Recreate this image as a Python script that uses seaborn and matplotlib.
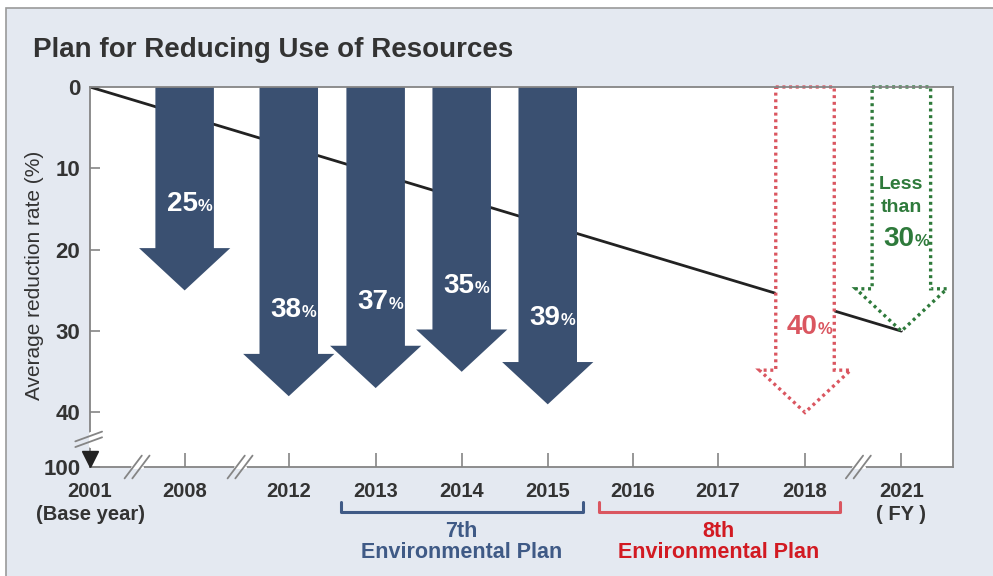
import matplotlib
matplotlib.use("Agg")
import matplotlib.pyplot as plt
from matplotlib.patches import Polygon, Rectangle
from matplotlib.lines import Line2D
import pandas as pd
import seaborn as sns

# ---- data -------------------------------------------------------------
years = ["2001", "2008", "2012", "2013", "2014", "2015", "2016", "2017", "2018", "2021"]
year_labels = ["2001\n(Base year)", "2008", "2012", "2013", "2014", "2015",
               "2016", "2017", "2018", "2021\n( FY )"]
result_years = ["2008", "2012", "2013", "2014", "2015"]
result_rates = [25, 38, 37, 35, 39]
target_years = ["2018", "2021"]
target_rates = [40, 30]
trend_years = ["2001", "2021"]
trend_rates = [0, 30]
y_ticks = [0, 10, 20, 30, 40]
y_tick_labels = ["0", "10", "20", "30", "40"]
base_label = "100"
plan_names = ["7th", "8th"]
plan_starts = ["2013", "2016"]
plan_ends = ["2015", "2018"]

# ---- layout / style ---------------------------------------------------
x_pos = dict(zip(years, [0.0, 1.10, 2.31, 3.32, 4.32, 5.32, 6.31, 7.30, 8.31, 9.43]))
X_MAX = 10.03
Y_BOTTOM = 46.7
SHAFT_HALF = 0.34
HEAD_HALF = 0.53
HEAD_LEN = 5.2
LABEL_UP = 9.7

BG = "#e4e9f1"
NAVY = "#3a5071"
RED_LINE = "#da5660"
RED_TEXT = "#d21a22"
GREEN = "#2e7a3b"
BLUE_TEXT = "#3f5a86"
DARK = "#333333"
SPINE = "#858585"

sns.set_theme(style="white")
plt.rcParams["font.family"] = ["Liberation Sans", "DejaVu Sans"]
LABEL_FONT = ["Liberation Sans", "DejaVu Sans"]

fig = plt.figure(figsize=(9.93, 5.76), dpi=100)
fig.patch.set_facecolor("white")
fig.patches.append(Rectangle((6 / 993, -0.2), 1.2, 0.2 + (576 - 8) / 576,
                             transform=fig.transFigure, facecolor=BG,
                             edgecolor="#9a9a9a", lw=1.2, zorder=-10))

ax = fig.add_axes([90 / 993, (576 - 467) / 576, (953 - 90) / 993, (467 - 87) / 576])
ax.set_facecolor("white")
ax.set_zorder(1)

# trend line from the base year to the final target
trend = pd.DataFrame({"x": [x_pos[y] for y in trend_years], "rate": trend_rates})
sns.lineplot(data=trend, x="x", y="rate", ax=ax, color="#222222", lw=2, zorder=2)


def arrow_verts(c, v):
    return [(c - SHAFT_HALF, 0), (c + SHAFT_HALF, 0), (c + SHAFT_HALF, v - HEAD_LEN),
            (c + HEAD_HALF, v - HEAD_LEN), (c, v), (c - HEAD_HALF, v - HEAD_LEN),
            (c - SHAFT_HALF, v - HEAD_LEN)]


def pct_label(c, v, color, size=20):
    y = v - LABEL_UP
    ax.text(c + 0.15, y, f"{v}", ha="right", va="baseline", color=color,
            fontsize=size, fontweight="bold", family=LABEL_FONT, zorder=5)
    ax.text(c + 0.15, y, "%", ha="left", va="baseline", color=color,
            fontsize=size * 0.6, fontweight="bold", family=LABEL_FONT, zorder=5)


# results: solid arrows
for yr, v in zip(result_years, result_rates):
    c = x_pos[yr]
    ax.add_patch(Polygon(arrow_verts(c, v), closed=True, facecolor=NAVY,
                         edgecolor="none", zorder=3, clip_on=False))
    pct_label(c, v, "white")

# targets: dotted outline arrows
target_colors = [RED_LINE, GREEN]
for yr, v, col in zip(target_years, target_rates, target_colors):
    c = x_pos[yr]
    p = Polygon(arrow_verts(c, v), closed=True, facecolor="white", edgecolor=col,
                lw=2.4, linestyle=(0, (0.9, 1.1)), zorder=3, clip_on=False)
    p.set_capstyle("butt")
    ax.add_patch(p)

c18 = x_pos[target_years[0]]
pct_label(c18, target_rates[0], RED_LINE)
c21 = x_pos[target_years[1]]
ax.text(c21, 12.5, "Less", ha="center", va="baseline", color=GREEN, fontsize=14,
        fontweight="bold", family=LABEL_FONT, zorder=5)
ax.text(c21, 15.4, "than", ha="center", va="baseline", color=GREEN, fontsize=14,
        fontweight="bold", family=LABEL_FONT, zorder=5)
ax.text(c21 + 0.15, 19.6, f"{target_rates[1]}", ha="right", va="baseline", color=GREEN,
        fontsize=20, fontweight="bold", family=LABEL_FONT, zorder=5)
ax.text(c21 + 0.15, 19.6, "%", ha="left", va="baseline", color=GREEN,
        fontsize=12, fontweight="bold", family=LABEL_FONT, zorder=5)

# axes
ax.set_xlim(0, X_MAX)
ax.set_ylim(Y_BOTTOM, 0)
ax.set_xticks([x_pos[y] for y in years])
ax.set_xticklabels(year_labels)
ax.set_yticks(y_ticks + [Y_BOTTOM])
ax.set_yticklabels(y_tick_labels + [base_label])
ax.set_xlabel("")
ax.set_ylabel("")
ax.tick_params(axis="x", direction="in", length=10, width=1.2, color=SPINE, pad=11,
               labelsize=14.5, labelcolor=DARK, bottom=True)
ax.tick_params(axis="y", direction="in", length=7, width=1.2, color=SPINE, pad=7,
               labelsize=16, labelcolor=DARK, left=True)
for lab in ax.get_xticklabels() + ax.get_yticklabels():
    lab.set_fontweight("bold")
    lab.set_linespacing(1.25)
for s in ax.spines.values():
    s.set_color(SPINE)
    s.set_linewidth(1.3)
    s.set_zorder(4)

# axis breaks
xt = ax.get_xaxis_transform()
for xb in [0.547, 1.744, 8.93]:
    ax.add_line(Line2D([xb - 0.06, xb + 0.06], [0.0, 0.0], transform=xt, color="white",
                       lw=2.2, zorder=6, clip_on=False))
    for dx in (-0.045, 0.045):
        ax.add_line(Line2D([xb + dx - 0.1, xb + dx + 0.1], [-0.03, 0.03], transform=xt,
                           color=SPINE, lw=1.3, zorder=7, clip_on=False))
yt = ax.get_yaxis_transform()
ax.add_line(Line2D([0, 0], [42.5, 44.1], transform=yt, color="white", lw=2.2,
                   zorder=6, clip_on=False))
for dy in (-0.35, 0.35):
    ax.add_line(Line2D([-0.017, 0.014], [43.3 + dy + 0.6, 43.3 + dy - 0.6], transform=yt,
                       color=SPINE, lw=1.3, zorder=7, clip_on=False))
ax.plot([0], [Y_BOTTOM - 1.0], marker="v", ms=11, color="#222222", clip_on=False, zorder=8)

# environmental plan brackets
plan_colors = [BLUE_TEXT, RED_LINE]
plan_text_colors = [BLUE_TEXT, RED_TEXT]
for name, s, e, lc, tc in zip(plan_names, plan_starts, plan_ends, plan_colors, plan_text_colors):
    x0, x1 = x_pos[s] - 0.4, x_pos[e] + 0.41
    ax.add_line(Line2D([x0, x0, x1, x1], [-0.092, -0.118, -0.118, -0.092], transform=xt,
                       color=lc, lw=2.2, clip_on=False))
    xm = (x_pos[s] + x_pos[e]) / 2
    ax.text(xm, -0.171, name, transform=xt, ha="center", va="center", color=tc,
            fontsize=15.5, fontweight="bold", family=LABEL_FONT)
    ax.text(xm, -0.226, "Environmental Plan", transform=xt, ha="center", va="center",
            color=tc, fontsize=15.5, fontweight="bold", family=LABEL_FONT)

# titles
fig.text(33 / 993, 1 - 57 / 576, "Plan for Reducing Use of Resources", ha="left",
         va="baseline", fontsize=20, fontweight="bold", color=DARK)
fig.text(35 / 993, 1 - 275 / 576, "Average reduction rate (%)", rotation=90,
         ha="center", va="center", fontsize=15, color=DARK)

fig.savefig("out.png", dpi=100)
